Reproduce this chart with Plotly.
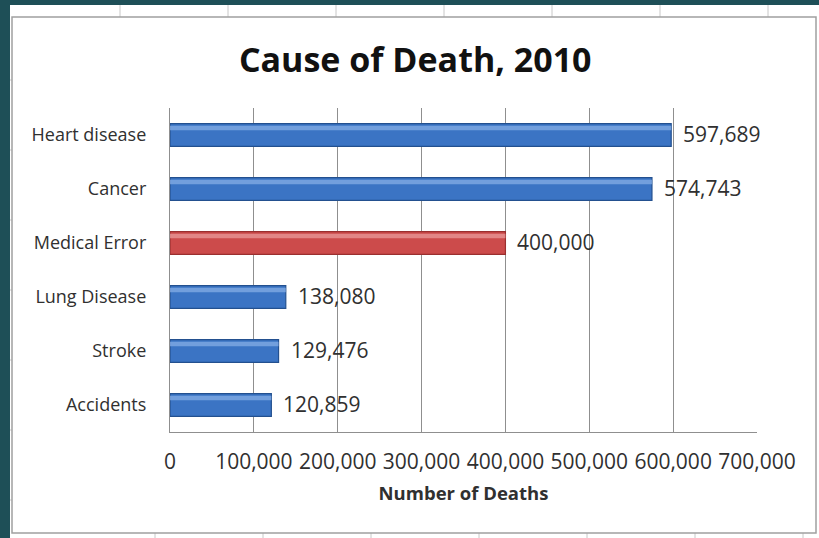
import plotly.graph_objects as go

causes = ["Heart disease", "Cancer", "Medical Error", "Lung Disease", "Stroke", "Accidents"]
deaths = [597689, 574743, 400000, 138080, 129476, 120859]
bar_colors = ["#3b74c4", "#3b74c4", "#cc4b4b", "#3b74c4", "#3b74c4", "#3b74c4"]
edge_colors = ["#23508f", "#23508f", "#9a2f2f", "#23508f", "#23508f", "#23508f"]
shine_colors = ["#86aee6", "#86aee6", "#e99a9a", "#86aee6", "#86aee6", "#86aee6"]
x_ticks = [0, 100000, 200000, 300000, 400000, 500000, 600000, 700000]
x_tick_text = ["0", "100,000", "200,000", "300,000", "400,000", "500,000", "600,000", "700,000"]

W, H = 819, 538
L, R, T, B = 170, 757, 108, 432
FONT = "Open Sans"
TXT = "#303030"

fig = go.Figure()
fig.add_trace(go.Bar(
    y=causes, x=deaths, orientation="h",
    marker=dict(color=bar_colors, line=dict(color=edge_colors, width=1.2)),
    width=0.42, offset=-0.21, hoverinfo="skip", showlegend=False,
))
fig.add_trace(go.Bar(
    y=causes, x=deaths, orientation="h",
    marker=dict(color=shine_colors, line=dict(width=0), opacity=0.75),
    width=0.08, offset=-0.17, hoverinfo="skip", showlegend=False,
))

for c, v in zip(causes, deaths):
    fig.add_annotation(x=v, y=c, text=f"{v:,}", showarrow=False,
                       xanchor="left", xshift=10, yshift=1,
                       font=dict(family=FONT, size=21, color=TXT))

# spreadsheet background decorations, pixel -> paper (plot-area) coords
def px(x): return (x - L) / (R - L)
def py(y): return (B - y) / (B - T)
shapes = []
for x in [120, 228, 336, 444, 552, 660, 768]:
    shapes.append(dict(type="line", xref="paper", yref="paper", x0=px(x), x1=px(x),
                       y0=py(5), y1=py(17), line=dict(color="#c8c8c8", width=1), layer="below"))
    shapes.append(dict(type="line", xref="paper", yref="paper", x0=px(x + 35), x1=px(x + 35),
                       y0=py(533), y1=py(538), line=dict(color="#c8c8c8", width=1), layer="below"))
for y in [80, 150, 220, 290, 360, 430, 500]:
    shapes.append(dict(type="line", xref="paper", yref="paper", x0=px(10), x1=px(12),
                       y0=py(y), y1=py(y), line=dict(color="#c8c8c8", width=1), layer="below"))
shapes.append(dict(type="rect", xref="paper", yref="paper", x0=px(0), x1=px(10), y0=py(538), y1=py(0),
                   fillcolor="#1e4f57", line=dict(width=0), layer="below"))
shapes.append(dict(type="rect", xref="paper", yref="paper", x0=px(0), x1=px(819), y0=py(5), y1=py(0),
                   fillcolor="#1e4f57", line=dict(width=0), layer="below"))
shapes.append(dict(type="rect", xref="paper", yref="paper", x0=px(12), x1=px(816), y0=py(533), y1=py(17),
                   fillcolor="rgba(0,0,0,0)", line=dict(color="#a0a0a0", width=1.5), layer="below"))

fig.update_layout(
    width=W, height=H,
    margin=dict(l=L, r=W - R, t=T, b=H - B),
    paper_bgcolor="#ffffff", plot_bgcolor="#ffffff",
    shapes=shapes,
    barmode="overlay",
    title=dict(text="<b>Cause of Death, 2010</b>", x=0.507, xanchor="center", xref="container",
               y=1 - 60 / H, yanchor="middle", yref="container",
               font=dict(family=FONT, size=34, color="#111111")),
    font=dict(family=FONT, color=TXT),
    xaxis=dict(range=[0, 700000], tickvals=x_ticks, ticktext=x_tick_text,
               showgrid=True, gridcolor="#8f8f8f", gridwidth=1,
               showline=True, linecolor="#8f8f8f", linewidth=1.2,
               zeroline=False, ticks="", ticklabelstandoff=11,
               tickfont=dict(family=FONT, size=21, color=TXT),
               title=dict(text="<b>Number of Deaths</b>", standoff=12,
                          font=dict(family=FONT, size=18.5, color=TXT))),
    yaxis=dict(autorange=False, range=[5.5, -0.5], type="category",
               showgrid=False, showline=True, linecolor="#8f8f8f", linewidth=1.2,
               ticks="", ticklabelstandoff=19,
               tickfont=dict(family=FONT, size=18, color=TXT)),
)

fig.write_html("out.html", config={"displayModeBar": False},
               post_script="document.body.style.margin='0';")
